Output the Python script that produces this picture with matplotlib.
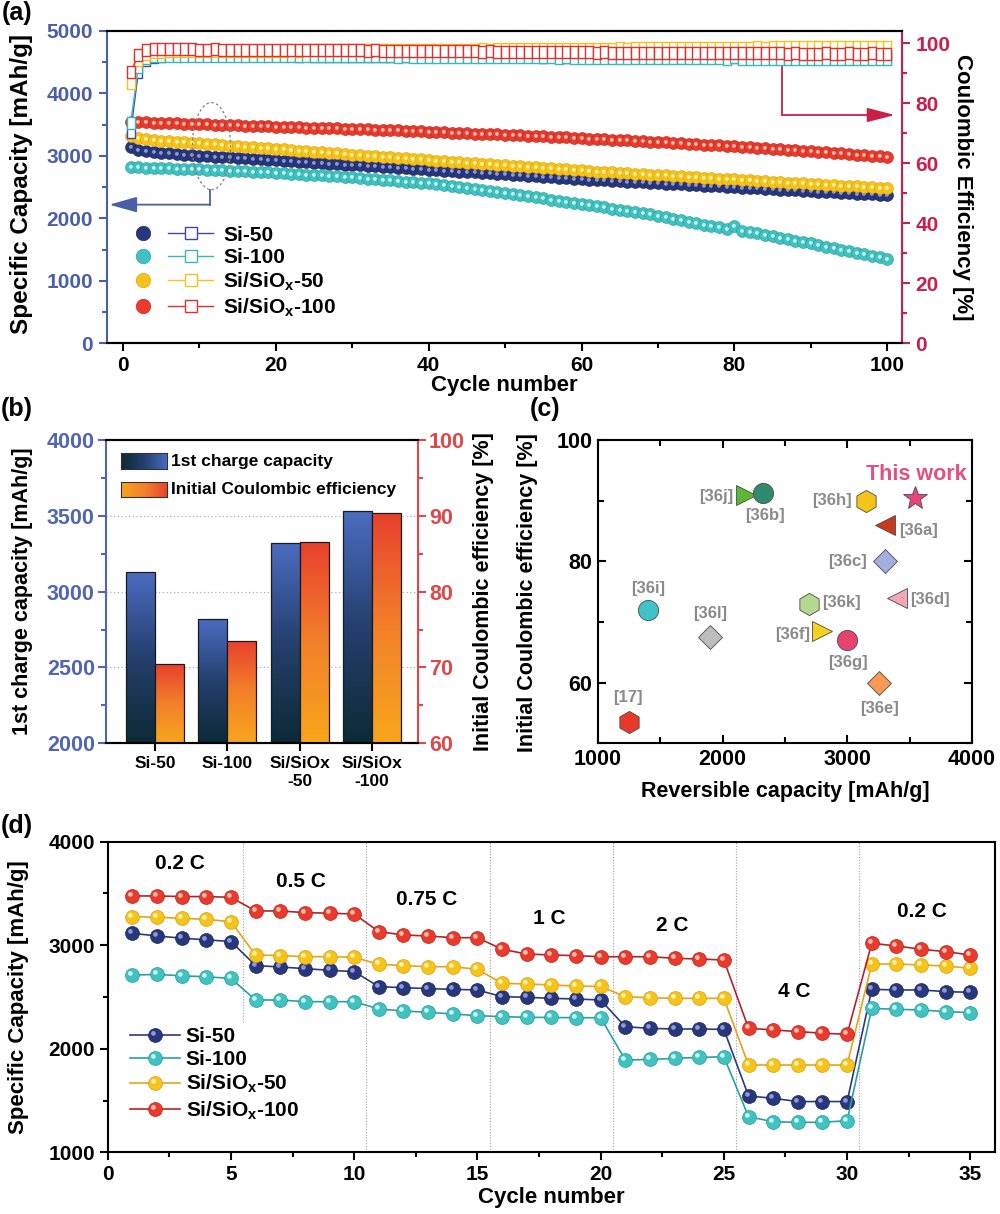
import numpy as np
import matplotlib
matplotlib.use('Agg')
import matplotlib.pyplot as plt
from matplotlib.path import Path
from matplotlib.lines import Line2D
from matplotlib.legend_handler import HandlerTuple
from matplotlib.patches import Ellipse, Rectangle
from matplotlib.colors import LinearSegmentedColormap
from matplotlib.ticker import MultipleLocator

plt.rcParams.update({
    'font.family': ['Liberation Sans', 'DejaVu Sans'],
    'font.weight': 'bold',
    'axes.labelweight': 'bold',
    'mathtext.fontset': 'custom',
    'mathtext.rm': 'Liberation Sans:bold',
    'mathtext.it': 'Liberation Sans:bold',
    'mathtext.bf': 'Liberation Sans:bold',
    'mathtext.default': 'rm',
})

# ------------------------------------------------------------------ data
samples = ['Si-50', 'Si-100', 'Si/SiOx-50', 'Si/SiOx-100']
legend_labels = ['Si-50', 'Si-100', r'Si/SiO$_x$-50', r'Si/SiO$_x$-100']

# (a) cycling: capacity [mAh/g] and coulombic efficiency [%], cycles 1..100
cycles_a = list(range(1, 101))
cap_si50 = [3140, 3100, 3080, 3060, 3050, 3040, 3030, 3020, 3015, 3005,
            2998, 2990, 2983, 2975, 2968, 2960, 2953, 2945, 2938, 2930,
            2922, 2915, 2907, 2900, 2892, 2885, 2877, 2870, 2862, 2855,
            2847, 2840, 2832, 2825, 2817, 2810, 2802, 2795, 2787, 2780,
            2772, 2765, 2757, 2750, 2742, 2735, 2727, 2720, 2712, 2705,
            2697, 2690, 2682, 2675, 2667, 2660, 2652, 2645, 2637, 2630,
            2622, 2615, 2608, 2602, 2595, 2589, 2582, 2576, 2569, 2563,
            2556, 2550, 2543, 2537, 2530, 2524, 2518, 2511, 2505, 2498,
            2492, 2486, 2479, 2473, 2466, 2460, 2454, 2447, 2441, 2434,
            2428, 2421, 2415, 2408, 2402, 2396, 2389, 2383, 2376, 2370]
cap_si100 = [2820, 2816, 2812, 2808, 2804, 2800, 2796, 2792, 2788, 2784,
             2779, 2774, 2769, 2764, 2759, 2754, 2748, 2742, 2736, 2730,
             2723, 2716, 2709, 2702, 2695, 2687, 2679, 2671, 2663, 2655,
             2646, 2637, 2628, 2619, 2610, 2600, 2590, 2580, 2570, 2560,
             2545, 2530, 2515, 2500, 2485, 2469, 2453, 2437, 2421, 2405,
             2388, 2371, 2354, 2337, 2320, 2302, 2284, 2266, 2248, 2230,
             2212, 2194, 2176, 2158, 2140, 2121, 2102, 2083, 2064, 2045,
             2022, 1998, 1974, 1950, 1926, 1902, 1878, 1854, 1830, 1875,
             1805, 1782, 1759, 1736, 1713, 1690, 1667, 1644, 1621, 1598,
             1573, 1549, 1525, 1501, 1477, 1453, 1429, 1405, 1381, 1357]
cap_sio50 = [3320, 3290, 3270, 3255, 3245, 3235, 3225, 3218, 3210, 3202,
             3193, 3184, 3175, 3166, 3157, 3148, 3139, 3130, 3121, 3112,
             3103, 3094, 3085, 3076, 3067, 3058, 3049, 3040, 3031, 3022,
             3013, 3004, 2995, 2986, 2977, 2968, 2960, 2952, 2943, 2935,
             2926, 2918, 2910, 2901, 2893, 2884, 2876, 2868, 2859, 2851,
             2842, 2834, 2826, 2817, 2809, 2800, 2792, 2784, 2775, 2767,
             2758, 2750, 2743, 2736, 2729, 2722, 2715, 2708, 2701, 2694,
             2687, 2680, 2673, 2666, 2659, 2652, 2645, 2638, 2631, 2624,
             2617, 2610, 2602, 2595, 2588, 2581, 2574, 2567, 2560, 2553,
             2546, 2539, 2532, 2525, 2518, 2511, 2504, 2497, 2490, 2482]
cap_sio100 = [3550, 3545, 3540, 3535, 3530, 3526, 3522, 3518, 3514, 3510,
              3506, 3502, 3498, 3494, 3490, 3486, 3482, 3478, 3474, 3470,
              3466, 3462, 3458, 3455, 3451, 3447, 3443, 3440, 3436, 3432,
              3428, 3424, 3420, 3416, 3412, 3408, 3403, 3398, 3393, 3388,
              3383, 3378, 3373, 3368, 3363, 3358, 3353, 3348, 3343, 3338,
              3333, 3328, 3322, 3317, 3311, 3306, 3300, 3295, 3289, 3284,
              3278, 3272, 3266, 3260, 3254, 3248, 3242, 3236, 3230, 3224,
              3217, 3210, 3203, 3196, 3189, 3182, 3175, 3168, 3161, 3154,
              3146, 3138, 3130, 3122, 3114, 3106, 3098, 3090, 3082, 3074,
              3066, 3057, 3048, 3039, 3030, 3021, 3012, 3004, 2996, 2988]

ce_si50 = [70.4, 90.5, 94.5, 95.5, 95.8, 96.0, 96.0, 96.1, 96.1, 96.1,
           96.1, 96.1, 96.1, 96.1, 96.0, 96.1, 96.0, 96.0, 96.0, 96.0,
           96.0, 96.0, 95.9, 96.0, 95.9, 95.9, 95.9, 95.9, 95.9, 95.9,
           95.8, 95.9, 95.8, 95.8, 95.8, 95.8, 95.8, 95.8, 95.7, 95.8,
           95.7, 95.7, 95.7, 95.7, 95.7, 95.7, 95.6, 95.7, 95.6, 95.6,
           95.6, 95.6, 95.6, 95.6, 95.5, 95.6, 95.5, 95.5, 95.5, 95.5,
           95.5, 95.5, 95.5, 95.4, 95.5, 95.4, 95.4, 95.4, 95.4, 95.4,
           95.4, 95.4, 95.3, 95.4, 95.3, 95.3, 95.3, 95.3, 95.3, 95.3,
           95.3, 95.3, 95.2, 95.3, 95.2, 95.2, 95.2, 95.2, 95.2, 95.2,
           95.2, 95.2, 95.2, 95.1, 95.2, 95.1, 95.1, 95.1, 95.1, 95.1]
ce_si100 = [73.5, 92.0, 95.0, 95.6, 95.8, 95.9, 95.9, 95.9, 95.9, 95.9,
            95.9, 95.9, 95.8, 95.9, 95.8, 95.8, 95.8, 95.8, 95.8, 95.8,
            95.7, 95.8, 95.7, 95.7, 95.7, 95.7, 95.7, 95.7, 95.6, 95.7,
            95.6, 95.6, 95.6, 95.6, 95.6, 95.5, 95.6, 95.5, 95.5, 95.5,
            95.5, 95.5, 95.4, 95.5, 95.4, 95.4, 95.4, 95.4, 95.4, 95.3,
            95.4, 95.3, 95.3, 95.3, 95.3, 95.3, 95.2, 95.3, 95.2, 95.2,
            95.2, 95.2, 95.2, 95.1, 95.2, 95.1, 95.1, 95.1, 95.1, 95.1,
            95.0, 95.1, 95.0, 95.0, 95.0, 95.0, 95.0, 95.0, 94.9, 95.3,
            94.9, 94.9, 94.9, 94.9, 94.9, 94.8, 94.9, 94.8, 94.8, 94.8,
            94.8, 94.8, 94.7, 94.8, 94.7, 94.7, 94.7, 94.7, 94.6, 94.6]
ce_sio50 = [86.6, 94.5, 96.5, 97.0, 97.2, 97.3, 97.3, 97.4, 97.4, 97.4,
            97.4, 97.4, 97.5, 97.4, 97.5, 97.5, 97.5, 97.5, 97.5, 97.5,
            97.5, 97.6, 97.5, 97.6, 97.6, 97.6, 97.6, 97.6, 97.7, 97.6,
            97.7, 97.7, 97.7, 97.7, 97.8, 97.7, 97.8, 97.8, 97.8, 97.8,
            97.9, 97.8, 97.9, 97.9, 97.9, 97.9, 98.0, 97.9, 98.0, 98.0,
            98.0, 98.0, 98.1, 98.0, 98.1, 98.1, 98.1, 98.1, 98.2, 98.1,
            98.2, 98.2, 98.2, 98.2, 98.3, 98.2, 98.3, 98.3, 98.3, 98.3,
            98.4, 98.3, 98.4, 98.4, 98.4, 98.4, 98.5, 98.4, 98.5, 98.5,
            98.5, 98.5, 98.6, 98.5, 98.6, 98.6, 98.6, 98.6, 98.7, 98.6,
            98.7, 98.7, 98.7, 98.8, 98.7, 98.8, 98.8, 98.8, 98.8, 98.8]
ce_sio100 = [90.4, 96.0, 97.8, 98.0, 98.0, 98.1, 98.0, 98.0, 98.0, 97.9,
             97.9, 98.0, 97.9, 97.9, 97.9, 97.8, 97.9, 97.8, 97.8, 97.8,
             97.8, 97.7, 97.8, 97.7, 97.7, 97.7, 97.6, 97.7, 97.6, 97.6,
             97.6, 97.5, 97.6, 97.5, 97.5, 97.5, 97.4, 97.5, 97.4, 97.4,
             97.4, 97.3, 97.4, 97.3, 97.3, 97.3, 97.2, 97.3, 97.2, 97.2,
             97.2, 97.1, 97.2, 97.1, 97.1, 97.1, 97.0, 97.1, 97.0, 97.0,
             97.0, 96.9, 97.0, 96.9, 96.9, 96.9, 96.8, 96.9, 96.8, 96.8,
             96.8, 96.8, 96.7, 96.8, 96.7, 96.7, 96.7, 96.7, 96.6, 96.7,
             96.6, 96.6, 96.6, 96.6, 96.6, 96.6, 96.5, 96.6, 96.5, 96.5,
             96.5, 96.6, 96.5, 96.5, 96.6, 96.5, 96.5, 96.6, 96.5, 96.5]

# (b) first charge capacity and initial coulombic efficiency
bar_labels = ['Si-50', 'Si-100', 'Si/SiOx\n-50', 'Si/SiOx\n-100']
first_charge = [3130, 2820, 3320, 3535]
initial_ce = [70.4, 73.5, 86.6, 90.4]

# (c) literature comparison
ref_names = ['[17]', '[36i]', '[36l]', '[36j]', '[36b]', '[36h]', 'This work',
             '[36a]', '[36c]', '[36d]', '[36k]', '[36f]', '[36g]', '[36e]']
ref_capacity = [1250, 1400, 1900, 2190, 2320, 3150, 3540,
                3300, 3300, 3400, 2690, 2800, 3000, 3250]
ref_ice = [53.5, 72.0, 67.5, 91.0, 91.2, 90.0, 90.4,
           86.0, 80.0, 74.0, 73.0, 68.5, 67.0, 60.0]

# (d) rate capability, cycles 1..35
cycles_d = list(range(1, 36))
rate_si50 = [3115, 3090, 3068, 3052, 3036, 2804, 2790, 2774, 2758, 2745,
             2600, 2590, 2581, 2574, 2568, 2503, 2497, 2487, 2481, 2471,
             2213, 2197, 2191, 2191, 2187, 1544, 1522, 1490, 1490, 1490,
             2574, 2568, 2568, 2552, 2545]
rate_si100 = [2712, 2718, 2705, 2695, 2680, 2471, 2471, 2455, 2455, 2455,
              2384, 2365, 2352, 2336, 2320, 2310, 2304, 2302, 2300, 2300,
              1891, 1897, 1907, 1916, 1923, 1344, 1295, 1289, 1290, 1305,
              2391, 2381, 2375, 2359, 2349]
rate_sio50 = [3276, 3270, 3260, 3250, 3227, 2906, 2900, 2890, 2890, 2883,
              2816, 2803, 2793, 2793, 2767, 2632, 2626, 2616, 2606, 2602,
              2503, 2493, 2487, 2487, 2487, 1843, 1843, 1843, 1843, 1843,
              2819, 2819, 2809, 2800, 2777]
rate_sio100 = [3476, 3476, 3470, 3470, 3463, 3331, 3331, 3315, 3309, 3302,
               3131, 3099, 3089, 3073, 3073, 2961, 2915, 2906, 2899, 2889,
               2889, 2889, 2874, 2867, 2857, 2198, 2182, 2166, 2150, 2140,
               3019, 2993, 2961, 2938, 2906]
rate_labels = ['0.2 C', '0.5 C', '0.75 C', '1 C', '2 C', '4 C', '0.2 C']
rate_boundaries = [5.5, 10.5, 15.5, 20.5, 25.5, 30.5]

# ------------------------------------------------------------------ styles
W, H = 1000, 1214
fig = plt.figure(figsize=(10, 12.14), dpi=100)
fig.patch.set_facecolor('white')


def ax_rect(l, t, r, b):
    return [l / W, 1 - b / H, (r - l) / W, (b - t) / H]


def fxy(x, y):
    return x / W, 1 - y / H


def hl_path(cx, cy, r):
    c = Path.circle(center=(cx, cy), radius=r)
    verts = np.vstack([[0.5, 0.5], [-0.5, -0.5], c.vertices])
    codes = np.concatenate([[Path.MOVETO, Path.MOVETO], c.codes])
    return Path(verts, codes)


HL = hl_path(-0.15, 0.15, 0.17)
HL_A = hl_path(-0.05, 0.05, 0.16)
RECT = Path([(-0.35, -0.5), (0.35, -0.5), (0.35, 0.5), (-0.35, 0.5), (-0.35, -0.5)],
            [Path.MOVETO, Path.LINETO, Path.LINETO, Path.LINETO, Path.CLOSEPOLY])

sph_c = ['#28367c', '#3fc2c0', '#f6c31a', '#e93a2c']
sph_e = ['#1c2658', '#2a9a98', '#d9a010', '#b8241c']
hl_c = ['#8d98d4', '#c8f4f2', '#fff3a8', '#ffc0b4']
line_c = ['#2a3a80', '#2aa0a0', '#e8a317', '#b5232a']
sq_c = ['#3c4c9c', '#3ab7b7', '#f2c21e', '#e2302e']

BLUE_A = '#4a5fa8'
RED_A = '#c8204a'
SP_LW = 1.5

# ================================================================== (a)
ax_a = fig.add_axes(ax_rect(107, 31, 901.7, 343.3))
ax_a2 = ax_a.twinx()
caps = [cap_si50, cap_si100, cap_sio50, cap_sio100]
ces = [ce_si50, ce_si100, ce_sio50, ce_sio100]
for i in range(4):
    ax_a.plot(cycles_a, caps[i], ls='none', marker='o', ms=8.6, mfc=sph_c[i],
              mec=sph_e[i], mew=0.4, zorder=3 + i * 0.1)
    ax_a.plot(cycles_a, caps[i], ls='none', marker=HL_A, ms=8.6, mfc=hl_c[i],
              mew=0, zorder=3 + i * 0.1 + 0.05)
for i in range(4):
    ax_a2.plot(cycles_a, ces[i], color=sq_c[i], lw=1.0, marker=RECT, ms=8.6,
               mfc='white', mec=sq_c[i], mew=1.0, zorder=3 + i * 0.1)

ax_a.set_xlim(-2.1, 101.9)
ax_a.set_ylim(0, 5000)
ax_a2.set_ylim(0, 104.1)
ax_a.xaxis.set_major_locator(MultipleLocator(20))
ax_a.xaxis.set_minor_locator(MultipleLocator(10))
ax_a.yaxis.set_major_locator(MultipleLocator(1000))
ax_a.yaxis.set_minor_locator(MultipleLocator(500))
ax_a2.yaxis.set_major_locator(MultipleLocator(20))
ax_a2.yaxis.set_minor_locator(MultipleLocator(10))

for sp in ax_a.spines.values():
    sp.set_linewidth(SP_LW)
for sp in ax_a2.spines.values():
    sp.set_linewidth(SP_LW)
ax_a.spines['left'].set_color(BLUE_A)
ax_a.spines['right'].set_visible(False)
ax_a2.spines['left'].set_visible(False)
ax_a2.spines['right'].set_color(RED_A)
ax_a.tick_params(axis='both', which='both', direction='out', width=SP_LW, labelsize=15, pad=3)
ax_a.tick_params(which='major', length=6)
ax_a.tick_params(which='minor', length=3.5)
ax_a.tick_params(axis='y', which='both', colors=BLUE_A, pad=4)
ax_a2.tick_params(axis='y', which='both', direction='out', width=SP_LW, colors=RED_A,
                  labelsize=15, pad=4)
ax_a2.tick_params(which='major', length=6)
ax_a2.tick_params(which='minor', length=3.5)

# ellipse + arrows
ax_a.add_patch(Ellipse((11.57, 3156), 5.0, 1396, fill=False, ls=(0, (2, 2)),
                       ec='#808080', lw=0.9, zorder=5))
ax_a.plot([11.4, 11.4], [3156 - 698, 2220], color=BLUE_A, lw=1.3, zorder=5)
ax_a.annotate('', xy=(-1.8, 2220), xytext=(11.4, 2220),
              arrowprops=dict(arrowstyle='-|>,head_length=0.85,head_width=0.24',
                              color=BLUE_A, lw=1.3, mutation_scale=20,
                              shrinkA=0, shrinkB=0), zorder=5)
ax_a2.plot([86.3, 86.3], [92.2, 76.1], color=RED_A, lw=1.3, zorder=5)
ax_a2.annotate('', xy=(101.0, 76.1), xytext=(86.3, 76.1),
               arrowprops=dict(arrowstyle='-|>,head_length=0.85,head_width=0.22',
                               color=RED_A, lw=1.3, mutation_scale=20,
                               shrinkA=0, shrinkB=0), zorder=5)

handles_a = []
for i in range(4):
    sph = Line2D([], [], ls='none', marker='o', ms=10.5, mfc=sph_c[i], mec=sph_e[i], mew=0.4)
    sq = Line2D([], [], color=sq_c[i], lw=1.0, marker='s', ms=9, mfc='white',
                mec=sq_c[i], mew=1.0)
    handles_a.append((sph, sq))
ax_a.legend(handles_a, legend_labels, handler_map={tuple: HandlerTuple(ndivide=None, pad=0.15)},
            loc='upper left', bbox_to_anchor=(0.0176, 0.377), frameon=False, fontsize=15,
            handlelength=4.4, handletextpad=0.5, labelspacing=0.17, borderpad=0,
            borderaxespad=0)

fig.text(*fxy(22, 184), 'Specific Capacity [mAh/g]', rotation=90, ha='center', va='center',
         fontsize=17.5, fontweight='bold')
fig.text(*fxy(962, 187), 'Coulombic Efficiency [%]', rotation=270, ha='center', va='center',
         fontsize=16, fontweight='bold')
fig.text(*fxy(504, 386), 'Cycle number', ha='center', va='center', fontsize=16,
         fontweight='bold')
fig.text(*fxy(17, 13), '(a)', ha='center', va='center', fontsize=18, fontweight='bold')

# ================================================================== (b)
BLUE_B = '#5066b0'
RED_B = '#e04848'
ax_b = fig.add_axes(ax_rect(106, 440, 418, 743.3))
ax_b2 = ax_b.twinx()
xb = np.arange(len(bar_labels))
bars1 = ax_b.bar(xb - 0.2, first_charge, 0.4, facecolor='none', edgecolor='#1a1a1a',
                 lw=0.9, zorder=3)
bars2 = ax_b2.bar(xb + 0.2, initial_ce, 0.4, facecolor='none', edgecolor='#1a1a1a',
                  lw=0.9, zorder=3)
cmap_blue = LinearSegmentedColormap.from_list('bl', ['#0b2a36', '#24406e', '#4c6cc2'])
cmap_orng = LinearSegmentedColormap.from_list('or', ['#f8a61c', '#f3802a', '#e8402e'])
grad_v = np.linspace(0, 1, 256).reshape(-1, 1)


def gradient_bars(ax, bars, cmap, ybot):
    for r in bars:
        x0 = r.get_x()
        x1 = x0 + r.get_width()
        y1 = r.get_y() + r.get_height()
        im = ax.imshow(grad_v, extent=[x0, x1, ybot, y1], origin='lower', aspect='auto',
                       cmap=cmap, zorder=2, interpolation='bilinear')
        im.set_clip_path(r)


gradient_bars(ax_b, bars1, cmap_blue, 2000)
gradient_bars(ax_b2, bars2, cmap_orng, 60)
for yv in [2500, 3000, 3500]:
    ax_b.axhline(yv, ls=(0, (1, 2)), color='#b0b0b0', lw=0.9, zorder=1)

ax_b.set_xlim(-0.678, 3.638)
ax_b.set_ylim(2000, 4000)
ax_b2.set_ylim(60, 100)
ax_b.set_xticks(xb)
ax_b.set_xticklabels(bar_labels, fontsize=12.5, linespacing=1.25)
ax_b.yaxis.set_major_locator(MultipleLocator(500))
ax_b.yaxis.set_minor_locator(MultipleLocator(250))
ax_b2.yaxis.set_major_locator(MultipleLocator(10))
ax_b2.yaxis.set_minor_locator(MultipleLocator(5))
for sp in list(ax_b.spines.values()) + list(ax_b2.spines.values()):
    sp.set_linewidth(SP_LW)
ax_b.spines['left'].set_color(BLUE_B)
ax_b.spines['right'].set_visible(False)
ax_b2.spines['left'].set_visible(False)
ax_b2.spines['right'].set_color(RED_B)
ax_b.tick_params(axis='both', which='both', direction='out', width=SP_LW)
ax_b.tick_params(which='major', length=6)
ax_b.tick_params(which='minor', length=3.5)
ax_b.tick_params(axis='x', pad=3)
ax_b.tick_params(axis='y', which='both', colors=BLUE_B, labelsize=15.5, pad=2)
ax_b2.tick_params(axis='y', which='both', direction='out', width=SP_LW, colors=RED_B,
                  labelsize=15.5, pad=2)
ax_b2.tick_params(which='major', length=6)
ax_b2.tick_params(which='minor', length=3.5)

# gradient legend
grad_h = np.linspace(0, 1, 256).reshape(1, -1)
for (t, b), cm in [((452.7, 469.3), cmap_blue), ((481.7, 497.3), cmap_orng)]:
    sw = fig.add_axes(ax_rect(120.7, t, 167.3, b))
    sw.imshow(grad_h, aspect='auto', cmap=cm, extent=[0, 1, 0, 1])
    sw.set_xticks([])
    sw.set_yticks([])
    for sp in sw.spines.values():
        sp.set_linewidth(0.8)
        sp.set_color('#333333')
fig.text(*fxy(171, 461), '1st charge capacity', ha='left', va='center', fontsize=12.5,
         fontweight='bold')
fig.text(*fxy(171, 489.5), 'Initial Coulombic efficiency', ha='left', va='center',
         fontsize=12.5, fontweight='bold')

fig.text(*fxy(22.5, 591), '1st charge capacity [mAh/g]', rotation=90, ha='center',
         va='center', fontsize=15.5, fontweight='bold')
fig.text(*fxy(484, 592), 'Initial Coulombic efficiency [%]', rotation=90, ha='center',
         va='center', fontsize=15.5, fontweight='bold')
fig.text(*fxy(17, 409), '(b)', ha='center', va='center', fontsize=18, fontweight='bold')

# ================================================================== (c)
ax_c = fig.add_axes(ax_rect(598, 440, 972, 743.3))
ref_style = {
    '[17]': ('h', 16, '#e8392a'), '[36i]': ('o', 14.5, '#3fc3c9'),
    '[36l]': ('D', 12, '#bdbdbd'), '[36j]': ('>', 15, '#5ab738'),
    '[36b]': ('o', 14.5, '#2e8b6e'), '[36h]': ('h', 16, '#f5c419'),
    'This work': ('*', 18, '#e8457a'), '[36a]': ('<', 15, '#c9391c'),
    '[36c]': ('D', 12, '#a3aedf'), '[36d]': ('<', 15, '#f3a6b6'),
    '[36k]': ('h', 16, '#b4d88f'), '[36f]': ('>', 15, '#f6d21f'),
    '[36g]': ('o', 14.5, '#e8436f'), '[36e]': ('D', 12, '#f79a55'),
}
label_offset = {  # points
    '[17]': (-0.7, 17.6), '[36i]': (0, 15.6), '[36l]': (0, 17.3), '[36j]': (-21.6, -1.2),
    '[36b]': (1.4, -15.6), '[36h]': (-24.8, -0.2), 'This work': (1, 17.3),
    '[36a]': (24.5, -3.9), '[36c]': (-26.9, 0), '[36d]': (23.3, -1.2),
    '[36k]': (23.5, 0.7), '[36f]': (-21.6, -2.4), '[36g]': (0.5, -16.3),
    '[36e]': (0.5, -18.7),
}
for name, xv, yv in zip(ref_names, ref_capacity, ref_ice):
    mk, ms, col = ref_style[name]
    ax_c.plot([xv], [yv], ls='none', marker=mk, ms=ms, mfc=col, mec='#4a4a4a', mew=0.6,
              zorder=3)
    if name == 'This work':
        ax_c.annotate(name, (xv, yv), xytext=label_offset[name], textcoords='offset points',
                      ha='center', va='center', fontsize=15.5, color='#e4507e',
                      fontweight='bold')
    else:
        ax_c.annotate(name, (xv, yv), xytext=label_offset[name], textcoords='offset points',
                      ha='center', va='center', fontsize=12, color='#8a8a8a',
                      fontweight='bold')
ax_c.set_xlim(1000, 4000)
ax_c.set_ylim(50, 100)
ax_c.xaxis.set_major_locator(MultipleLocator(1000))
ax_c.xaxis.set_minor_locator(MultipleLocator(500))
ax_c.yaxis.set_major_locator(MultipleLocator(20))
ax_c.yaxis.set_minor_locator(MultipleLocator(10))
for sp in ax_c.spines.values():
    sp.set_linewidth(SP_LW)
ax_c.tick_params(axis='both', which='both', direction='in', top=True, right=True,
                 width=SP_LW, labelsize=15.5, pad=4)
ax_c.tick_params(which='major', length=6)
ax_c.tick_params(which='minor', length=4)
fig.text(*fxy(528, 593), 'Initial Coulombic efficiency [%]', rotation=90, ha='center',
         va='center', fontsize=15.5, fontweight='bold')
fig.text(*fxy(785, 791), 'Reversible capacity [mAh/g]', ha='center', va='center',
         fontsize=15.5, fontweight='bold')
fig.text(*fxy(545, 409), '(c)', ha='center', va='center', fontsize=18, fontweight='bold')

# ================================================================== (d)
ax_d = fig.add_axes(ax_rect(107.7, 841.7, 995, 1152.3))
rates = [rate_si50, rate_si100, rate_sio50, rate_sio100]
for i in range(4):
    ax_d.plot(cycles_d, rates[i], color=line_c[i], lw=1.2, marker='o', ms=10,
              mfc=sph_c[i], mec=sph_e[i], mew=0.5, zorder=3 + i * 0.1)
    ax_d.plot(cycles_d, rates[i], ls='none', marker=HL, ms=10, mfc=hl_c[i], mew=0,
              zorder=3 + i * 0.1 + 0.05)
for k, xb_ in enumerate(rate_boundaries):
    ymin = 0.42 if k == 0 else 0.0
    ax_d.axvline(xb_, ymin=ymin, ymax=1, ls=(0, (1, 1.5)), color='#a0a0a0', lw=0.8, zorder=1)
rate_pos = [(2.93, 3791), (7.86, 3614), (12.93, 3437), (17.9, 3260), (22.9, 3195),
            (27.86, 2551), (33.05, 3324)]
for lab, (xp, yp) in zip(rate_labels, rate_pos):
    ax_d.text(xp, yp, lab, ha='center', va='center', fontsize=15, fontweight='bold')
ax_d.set_xlim(0, 36)
ax_d.set_ylim(1000, 4000)
ax_d.xaxis.set_major_locator(MultipleLocator(5))
ax_d.xaxis.set_minor_locator(MultipleLocator(2.5))
ax_d.yaxis.set_major_locator(MultipleLocator(1000))
ax_d.yaxis.set_minor_locator(MultipleLocator(500))
for sp in ax_d.spines.values():
    sp.set_linewidth(SP_LW)
ax_d.tick_params(axis='both', which='both', direction='out', width=SP_LW, labelsize=15,
                 pad=3)
ax_d.tick_params(which='major', length=6)
ax_d.tick_params(which='minor', length=3.5)

handles_d = []
for i in range(4):
    ln = Line2D([], [], color=line_c[i], lw=1.2, marker='o', ms=10, mfc=sph_c[i],
                mec=sph_e[i], mew=0.5)
    hl = Line2D([], [], ls='none', marker=HL, ms=10, mfc=hl_c[i], mew=0)
    handles_d.append((ln, hl))
ax_d.legend(handles_d, legend_labels, handler_map={tuple: HandlerTuple(ndivide=1)},
            loc='upper left', bbox_to_anchor=(0.025, 0.404), frameon=False, fontsize=15,
            handlelength=2.4, handletextpad=0.27, labelspacing=0.2, borderpad=0,
            borderaxespad=0)

fig.text(*fxy(18.5, 997), 'Specific Capacity [mAh/g]', rotation=90, ha='center',
         va='center', fontsize=16, fontweight='bold')
fig.text(*fxy(551, 1197), 'Cycle number', ha='center', va='center', fontsize=16,
         fontweight='bold')
fig.text(*fxy(17, 826), '(d)', ha='center', va='center', fontsize=18, fontweight='bold')

fig.savefig('out.png', dpi=100, facecolor='white')
